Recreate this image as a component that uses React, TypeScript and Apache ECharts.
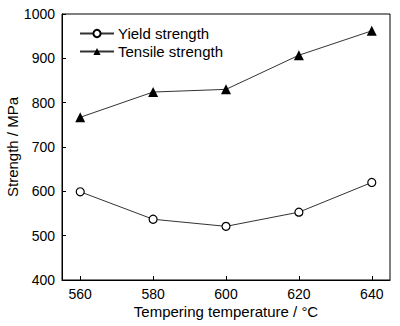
import React, { useEffect, useRef } from "react";
import * as echarts from "echarts";

const temperatures = [560, 580, 600, 620, 640];
const yieldStrength = [599, 537, 521, 553, 620];
const tensileStrength = [767, 824, 830, 907, 962];
const xTicks = [560, 580, 600, 620, 640];

export default function App() {
  const ref = useRef<HTMLDivElement>(null);
  useEffect(() => {
    if (!ref.current) return;
    document.body.style.margin = "0";
    const chart = echarts.init(ref.current, undefined, { renderer: "svg" });
    const font = "'Liberation Sans', Arial, sans-serif";
    chart.setOption({
      animation: false,
      backgroundColor: "#ffffff",
      textStyle: { fontFamily: font },
      grid: {
        left: 62,
        top: 14,
        right: 10,
        bottom: 46,
        containLabel: false,
        outerBoundsMode: "none",
        show: true,
        borderColor: "#000",
        borderWidth: 1,
      },
      legend: {
        left: 74,
        top: 21,
        orient: "vertical",
        itemWidth: 34,
        itemHeight: 9,
        itemGap: 3,
        textStyle: { fontFamily: font, fontSize: 15, color: "#000", padding: [0, 0, 0, -1] },
        data: ["Yield strength", "Tensile strength"],
      },
      xAxis: {
        type: "value",
        min: 555,
        max: 645,
        name: "Tempering temperature / °C",
        nameLocation: "middle",
        nameGap: 24,
        nameMoveOverlap: false,
        nameTextStyle: { fontFamily: font, fontSize: 15, color: "#000" },
        splitLine: { show: false },
        axisLine: { show: true, lineStyle: { color: "#000", width: 1 } },
        axisTick: { show: true, inside: true, length: 4, customValues: xTicks, lineStyle: { color: "#000" } },
        axisLabel: { customValues: xTicks, fontFamily: font, fontSize: 14, color: "#000", margin: 7 },
      },
      yAxis: {
        type: "value",
        min: 400,
        max: 1000,
        interval: 100,
        name: "Strength / MPa",
        nameLocation: "middle",
        nameGap: 42,
        nameMoveOverlap: false,
        nameTextStyle: { fontFamily: font, fontSize: 15, color: "#000" },
        splitLine: { show: false },
        axisLine: { show: true, lineStyle: { color: "#000", width: 1 } },
        axisTick: { show: true, inside: true, length: 4, lineStyle: { color: "#000" } },
        axisLabel: { fontFamily: font, fontSize: 14, color: "#000", margin: 7, formatter: (v: number) => String(v) },
      },
      series: [
        {
          name: "Yield strength",
          type: "line",
          data: temperatures.map((t, i) => [t, yieldStrength[i]]),
          symbol: "circle",
          symbolSize: 8,
          itemStyle: { color: "#fff", borderColor: "#000", borderWidth: 1.2 },
          lineStyle: { color: "#333", width: 1 },
        },
        {
          name: "Tensile strength",
          type: "line",
          data: temperatures.map((t, i) => [t, tensileStrength[i]]),
          symbol: "triangle",
          symbolSize: 10,
          itemStyle: { color: "#000", borderColor: "#000", borderWidth: 0 },
          lineStyle: { color: "#333", width: 1 },
        },
      ],
    });
    return () => chart.dispose();
  }, []);
  return <div ref={ref} style={{ width: 400, height: 326 }} />;
}
